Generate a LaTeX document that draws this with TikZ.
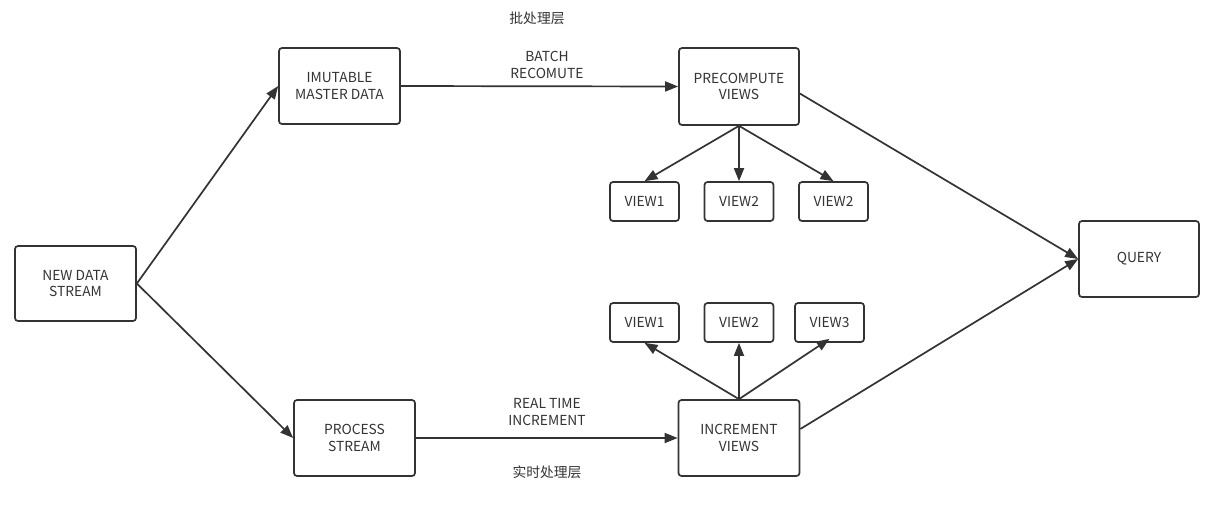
\documentclass[tikz,border=0pt]{standalone}
\usepackage{fontspec}
\setmainfont{Noto Sans CJK SC}
\usetikzlibrary{arrows.meta}
\definecolor{ink}{HTML}{333333}
\tikzset{
  box/.style={draw=ink, line width=1.7pt, rounded corners=3pt, align=center, font=\fontsize{13.8}{16.5}\selectfont, text=ink, inner sep=0pt},
  lbl/.style={align=center, font=\fontsize{13.8}{16.5}\selectfont, text=ink, inner sep=0pt},
  conn/.style={draw=ink, line width=1.7pt, -{Triangle[length=13pt,width=10pt]}},
  plain/.style={draw=ink, line width=1.7pt}
}
\begin{document}
\begin{tikzpicture}[x=1pt,y=-1pt]
\useasboundingbox (0,0) rectangle (1227,507);
\node[box, minimum width=121pt, minimum height=75pt] (nds) at (75.5,283.5) {NEW DATA\\STREAM};
\node[box, minimum width=121pt, minimum height=76pt] (imd) at (339.5,86) {IMUTABLE\\MASTER DATA};
\node[box, minimum width=120pt, minimum height=77pt] (pcv) at (739,86.5) {PRECOMPUTE\\VIEWS};
\node[box, minimum width=69pt, minimum height=39pt] (tv1) at (644.5,201.5) {VIEW1};
\node[box, minimum width=69pt, minimum height=39pt] (tv2) at (739,201.5) {VIEW2};
\node[box, minimum width=69pt, minimum height=39pt] (tv3) at (833.5,201.5) {VIEW2};
\node[box, minimum width=120pt, minimum height=76pt] (qry) at (1139,259) {QUERY};
\node[box, minimum width=69pt, minimum height=39pt] (bv1) at (644.5,322.5) {VIEW1};
\node[box, minimum width=69pt, minimum height=39pt] (bv2) at (739,322.5) {VIEW2};
\node[box, minimum width=69pt, minimum height=39pt] (bv3) at (829.5,322.5) {VIEW3};
\node[box, minimum width=121pt, minimum height=76pt] (psm) at (354.5,438) {PROCESS\\STREAM};
\node[box, minimum width=121pt, minimum height=76pt] (icv) at (739,438) {INCREMENT\\VIEWS};
\node[lbl] (batchlayer) at (537,18) {批处理层};
\node[lbl] (batchlbl) at (547,65) {BATCH\\RECOMUTE};
\node[lbl] (rtlbl) at (547,412) {REAL TIME\\INCREMENT};
\node[lbl] (rtlayer) at (547,472) {实时处理层};
\coordinate (ndsr) at (nds.east);
\draw[conn] (ndsr) -- (imd.west);
\draw[conn] (ndsr) -- (psm.west);
\draw[conn] (imd.east) -- (pcv.west);
\draw[conn] (psm.east) -- (icv.west);
\draw[conn] (pcv.south) -- (tv1.north);
\draw[conn] (pcv.south) -- (tv2.north);
\draw[conn] (pcv.south) -- (tv3.north);
\coordinate (icvt) at (icv.north);
\draw[conn] (icvt) -- (bv1.south);
\draw[conn] (icvt) -- (bv2.south);
\draw[conn] (icvt) -- ([yshift=4pt]bv3.south);
\draw[conn] ([yshift=-7pt]pcv.east) -- (qry.west);
\draw[conn] ([yshift=9pt]icv.east) -- (qry.west);
\end{tikzpicture}
\end{document}
